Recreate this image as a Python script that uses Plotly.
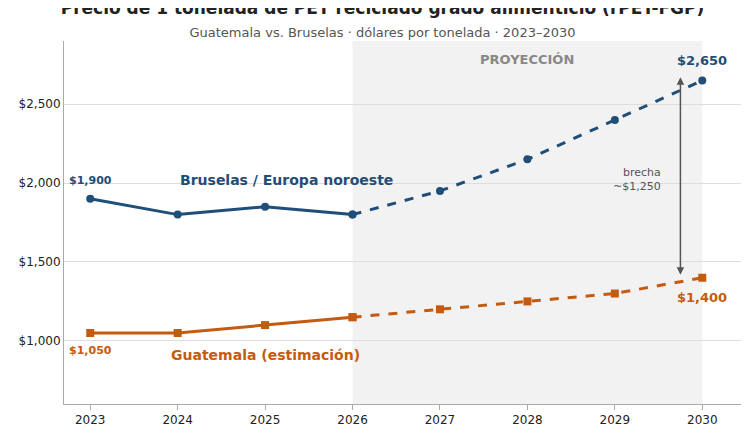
import plotly.graph_objects as go

years_hist = [2023, 2024, 2025, 2026]
years_proj = [2026, 2027, 2028, 2029, 2030]
bru_hist = [1900, 1800, 1850, 1800]
bru_proj = [1800, 1950, 2150, 2400, 2650]
gua_hist = [1050, 1050, 1100, 1150]
gua_proj = [1150, 1200, 1250, 1300, 1400]

BLUE = "#1f4e79"
ORANGE = "#c55a11"

fig = go.Figure()
fig.add_vrect(x0=2026, x1=2030, fillcolor="#f2f2f2", line_width=0, layer="below")
fig.add_trace(go.Scatter(x=years_hist, y=bru_hist, mode="lines+markers",
                         line=dict(color=BLUE, width=3), marker=dict(size=8, symbol="circle")))
fig.add_trace(go.Scatter(x=years_proj, y=bru_proj, mode="lines+markers",
                         line=dict(color=BLUE, width=3, dash="dash"), marker=dict(size=8, symbol="circle")))
fig.add_trace(go.Scatter(x=years_hist, y=gua_hist, mode="lines+markers",
                         line=dict(color=ORANGE, width=3), marker=dict(size=8, symbol="square")))
fig.add_trace(go.Scatter(x=years_proj, y=gua_proj, mode="lines+markers",
                         line=dict(color=ORANGE, width=3, dash="dash"), marker=dict(size=8, symbol="square")))

ann = [
    dict(x=2023, y=1900, text="<b>$1,900</b>", yshift=18, font=dict(color=BLUE, size=11)),
    dict(x=2023, y=1050, text="<b>$1,050</b>", yshift=-18, font=dict(color=ORANGE, size=11)),
    dict(x=2030, y=2650, text="<b>$2,650</b>", yshift=20, font=dict(color=BLUE, size=13)),
    dict(x=2030, y=1400, text="<b>$1,400</b>", yshift=-20, font=dict(color=ORANGE, size=13)),
    dict(x=2024, y=2020, text="<b>Bruselas / Europa noroeste</b>", xanchor="left", font=dict(color=BLUE, size=14)),
    dict(x=2023.9, y=910, text="<b>Guatemala (estimación)</b>", xanchor="left", font=dict(color=ORANGE, size=14)),
    dict(x=2028, y=2780, text="<b>PROYECCIÓN</b>", font=dict(color="#888888", size=13)),
    dict(x=2029.55, y=2020, text="brecha<br>~$1,250", xanchor="right", align="right", font=dict(color="#555555", size=11)),
]
for a in ann:
    a.update(showarrow=False)
    fig.add_annotation(**a)
fig.add_annotation(x=2029.75, y=2670, ax=2029.75, ay=1410, axref="x", ayref="y", xref="x", yref="y",
                   text="", showarrow=True, arrowhead=2, startarrowhead=2, arrowside="end+start",
                   arrowcolor="#555555", arrowwidth=1.5)

fig.update_layout(
    width=749, height=430, showlegend=False,
    plot_bgcolor="white", paper_bgcolor="white",
    margin=dict(l=52, r=11, t=33, b=29),
    font=dict(family="DejaVu Sans", size=12, color="#222"),
    title=dict(text="<b>Precio de 1 tonelada de PET reciclado grado alimenticio (rPET-FGP)</b><br>"
                    "<span style='font-size:13px;color:#555'>Guatemala vs. Bruselas · dólares por tonelada · 2023–2030</span>",
               x=0.5, xanchor="center", y=0.985, yanchor="top", font=dict(size=17, color="#222")),
    xaxis=dict(range=[2022.7, 2030.5], tickvals=list(range(2023, 2031)), showgrid=False,
               showline=True, linecolor="#aaa", ticks="outside", tickcolor="#aaa"),
    yaxis=dict(range=[600, 2900], tickvals=[1000, 1500, 2000, 2500], tickformat="$,.0f",
               gridcolor="#dddddd", showline=True, linecolor="#aaa", zeroline=False),
)
fig.write_html("out.html")
